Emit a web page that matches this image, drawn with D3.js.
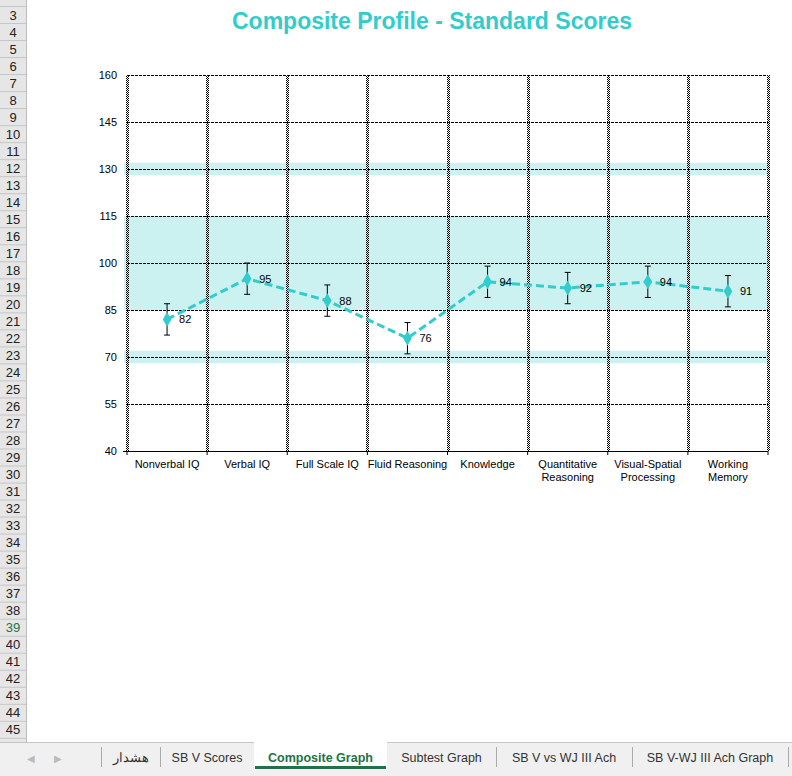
<!DOCTYPE html>
<html><head><meta charset="utf-8">
<script src="https://cdn.jsdelivr.net/npm/d3@7/dist/d3.min.js"></script>
<style>body{margin:0;background:#fff;overflow:hidden}svg{display:block;font-family:Arial,"Liberation Sans",sans-serif}</style>
</head><body><svg id="c" width="792" height="776"></svg>
<script>
const categories=[["Nonverbal IQ"],["Verbal IQ"],["Full Scale IQ"],["Fluid Reasoning"],["Knowledge"],["Quantitative","Reasoning"],["Visual-Spatial","Processing"],["Working","Memory"]];
const scores=[82,95,88,76,94,92,94,91];
const errLow=[77,90,83,71,89,87,89,86];
const errHigh=[87,100,93,81,99,97,99,96];
const yTicks=[40,55,70,85,100,115,130,145,160];
const bands=[[128,132],[85,115],[68,72]];
const rows=d3.range(3,47);
const tabs=["هشدار","SB V Scores","Composite Graph","Subtest Graph","SB V vs WJ III Ach","SB V-WJ III Ach Graph"];

const svg=d3.select("#c");
const teal="#33cccc";
svg.append("rect").attr("x",0).attr("y",0).attr("width",26).attr("height",742).attr("fill","#e6e6e6");
svg.append("line").attr("x1",26.5).attr("x2",26.5).attr("y1",0).attr("y2",742).attr("stroke","#bdbdbd");
svg.append("line").attr("x1",0).attr("x2",26).attr("y1",6.5).attr("y2",6.5).attr("stroke","#c6c6c6");
rows.forEach(r=>{const cy=15+(r-3)*17.02;
 svg.append("line").attr("x1",0).attr("x2",26).attr("y1",cy+8.5).attr("y2",cy+8.5).attr("stroke","#c6c6c6");
 svg.append("text").attr("x",13).attr("y",cy+4.5).attr("text-anchor","middle").attr("font-size",13).attr("fill",r===39?"#217346":"#222").text(r);});
svg.append("text").attr("x",432).attr("y",29).attr("text-anchor","middle").attr("font-size",23).attr("font-weight","bold").attr("fill",teal).text("Composite Profile - Standard Scores");
const L=127,R=768,T=75,B=451;
const x=d3.scaleBand().domain(d3.range(8)).range([L,R]);
const y=d3.scaleLinear().domain([40,160]).range([B,T]);
bands.forEach(b=>svg.append("rect").attr("x",L-3).attr("width",R-L+3).attr("y",y(b[1])).attr("height",y(b[0])-y(b[1])).attr("fill","#cbf1f1"));
yTicks.forEach(t=>{ if(t>40) svg.append("line").attr("x1",L).attr("x2",R).attr("y1",y(t)+.5).attr("y2",y(t)+.5).attr("stroke","#000").attr("stroke-dasharray","3,1");});
const pat=svg.append("defs").append("pattern").attr("id","chk").attr("width",2).attr("height",2).attr("patternUnits","userSpaceOnUse");
pat.append("rect").attr("width",1).attr("height",1).attr("fill","#000");
pat.append("rect").attr("x",1).attr("y",1).attr("width",1).attr("height",1).attr("fill","#000");
d3.range(9).forEach(i=>{const xx=i<8?x(i):R;svg.append("rect").attr("x",Math.round(xx)-1).attr("y",T).attr("width",3).attr("height",B-T).attr("fill","url(#chk)");});
const ya=svg.append("g").attr("transform",`translate(${L},0)`).call(d3.axisLeft(y).tickValues(yTicks).tickSize(0).tickPadding(10));
ya.select(".domain").remove();ya.selectAll("text").attr("font-size",11).attr("font-family","Arial").attr("fill","#000");
svg.append("line").attr("x1",L-4).attr("x2",R).attr("y1",B+.5).attr("y2",B+.5).attr("stroke","#000");
d3.range(9).forEach(i=>{const xx=i<8?x(i):R;svg.append("line").attr("x1",xx).attr("x2",xx).attr("y1",B).attr("y2",B+4).attr("stroke","#000");});
categories.forEach((c,i)=>{const t=svg.append("text").attr("x",x(i)+x.bandwidth()/2).attr("y",468).attr("text-anchor","middle").attr("font-size",11).attr("fill","#000");
 c.forEach((s,j)=>t.append("tspan").attr("x",x(i)+x.bandwidth()/2).attr("dy",j?13:0).text(s));});
const cx=i=>x(i)+x.bandwidth()/2;
scores.forEach((s,i)=>{const g=svg.append("g").attr("stroke","#000");
 g.append("line").attr("x1",cx(i)).attr("x2",cx(i)).attr("y1",y(errLow[i])).attr("y2",y(errHigh[i]));
 [errLow[i],errHigh[i]].forEach(v=>g.append("line").attr("x1",cx(i)-3).attr("x2",cx(i)+3).attr("y1",y(v)).attr("y2",y(v)));});
svg.append("path").datum(scores).attr("d",d3.line().x((d,i)=>cx(i)).y(d=>y(d))).attr("fill","none").attr("stroke",teal).attr("stroke-width",3).attr("stroke-dasharray","8,4");
scores.forEach((s,i)=>{svg.append("path").attr("d",d3.symbol(d3.symbolDiamond,64)()).attr("transform",`translate(${cx(i)},${y(s)})`).attr("fill",teal);
 svg.append("text").attr("x",cx(i)+12).attr("y",y(s)+4).attr("font-size",11).attr("fill","#000").text(s);});
svg.append("rect").attr("x",0).attr("y",742).attr("width",792).attr("height",34).attr("fill","#f0f0f0");
svg.append("line").attr("x1",0).attr("x2",792).attr("y1",742.5).attr("y2",742.5).attr("stroke","#c6c6c6");
svg.append("text").attr("x",27).attr("y",762).attr("font-size",10).attr("fill","#bbb").text("◀");
svg.append("text").attr("x",54).attr("y",762).attr("font-size",10).attr("fill","#bbb").text("▶");
const tabX=[101,160,254,387,496,632,788];
tabs.forEach((t,i)=>{const a=tabX[i],b=tabX[i+1];
 if(i===2){svg.append("rect").attr("x",a).attr("y",742).attr("width",b-a).attr("height",28).attr("fill","#fff");
  svg.append("rect").attr("x",a+1).attr("y",766).attr("width",b-a-2).attr("height",3).attr("fill","#217346");}
 else svg.append("line").attr("x1",b+.5).attr("x2",b+.5).attr("y1",747).attr("y2",767).attr("stroke","#aaa");
 if(i===0) svg.append("line").attr("x1",a+.5).attr("x2",a+.5).attr("y1",747).attr("y2",767).attr("stroke","#aaa");
 svg.append("text").attr("x",(a+b)/2).attr("y",762).attr("text-anchor","middle").attr("font-size",12.5).attr("font-weight",i===2?"bold":"normal").attr("fill",i===2?"#217346":"#333").text(t);});
</script></body></html>
